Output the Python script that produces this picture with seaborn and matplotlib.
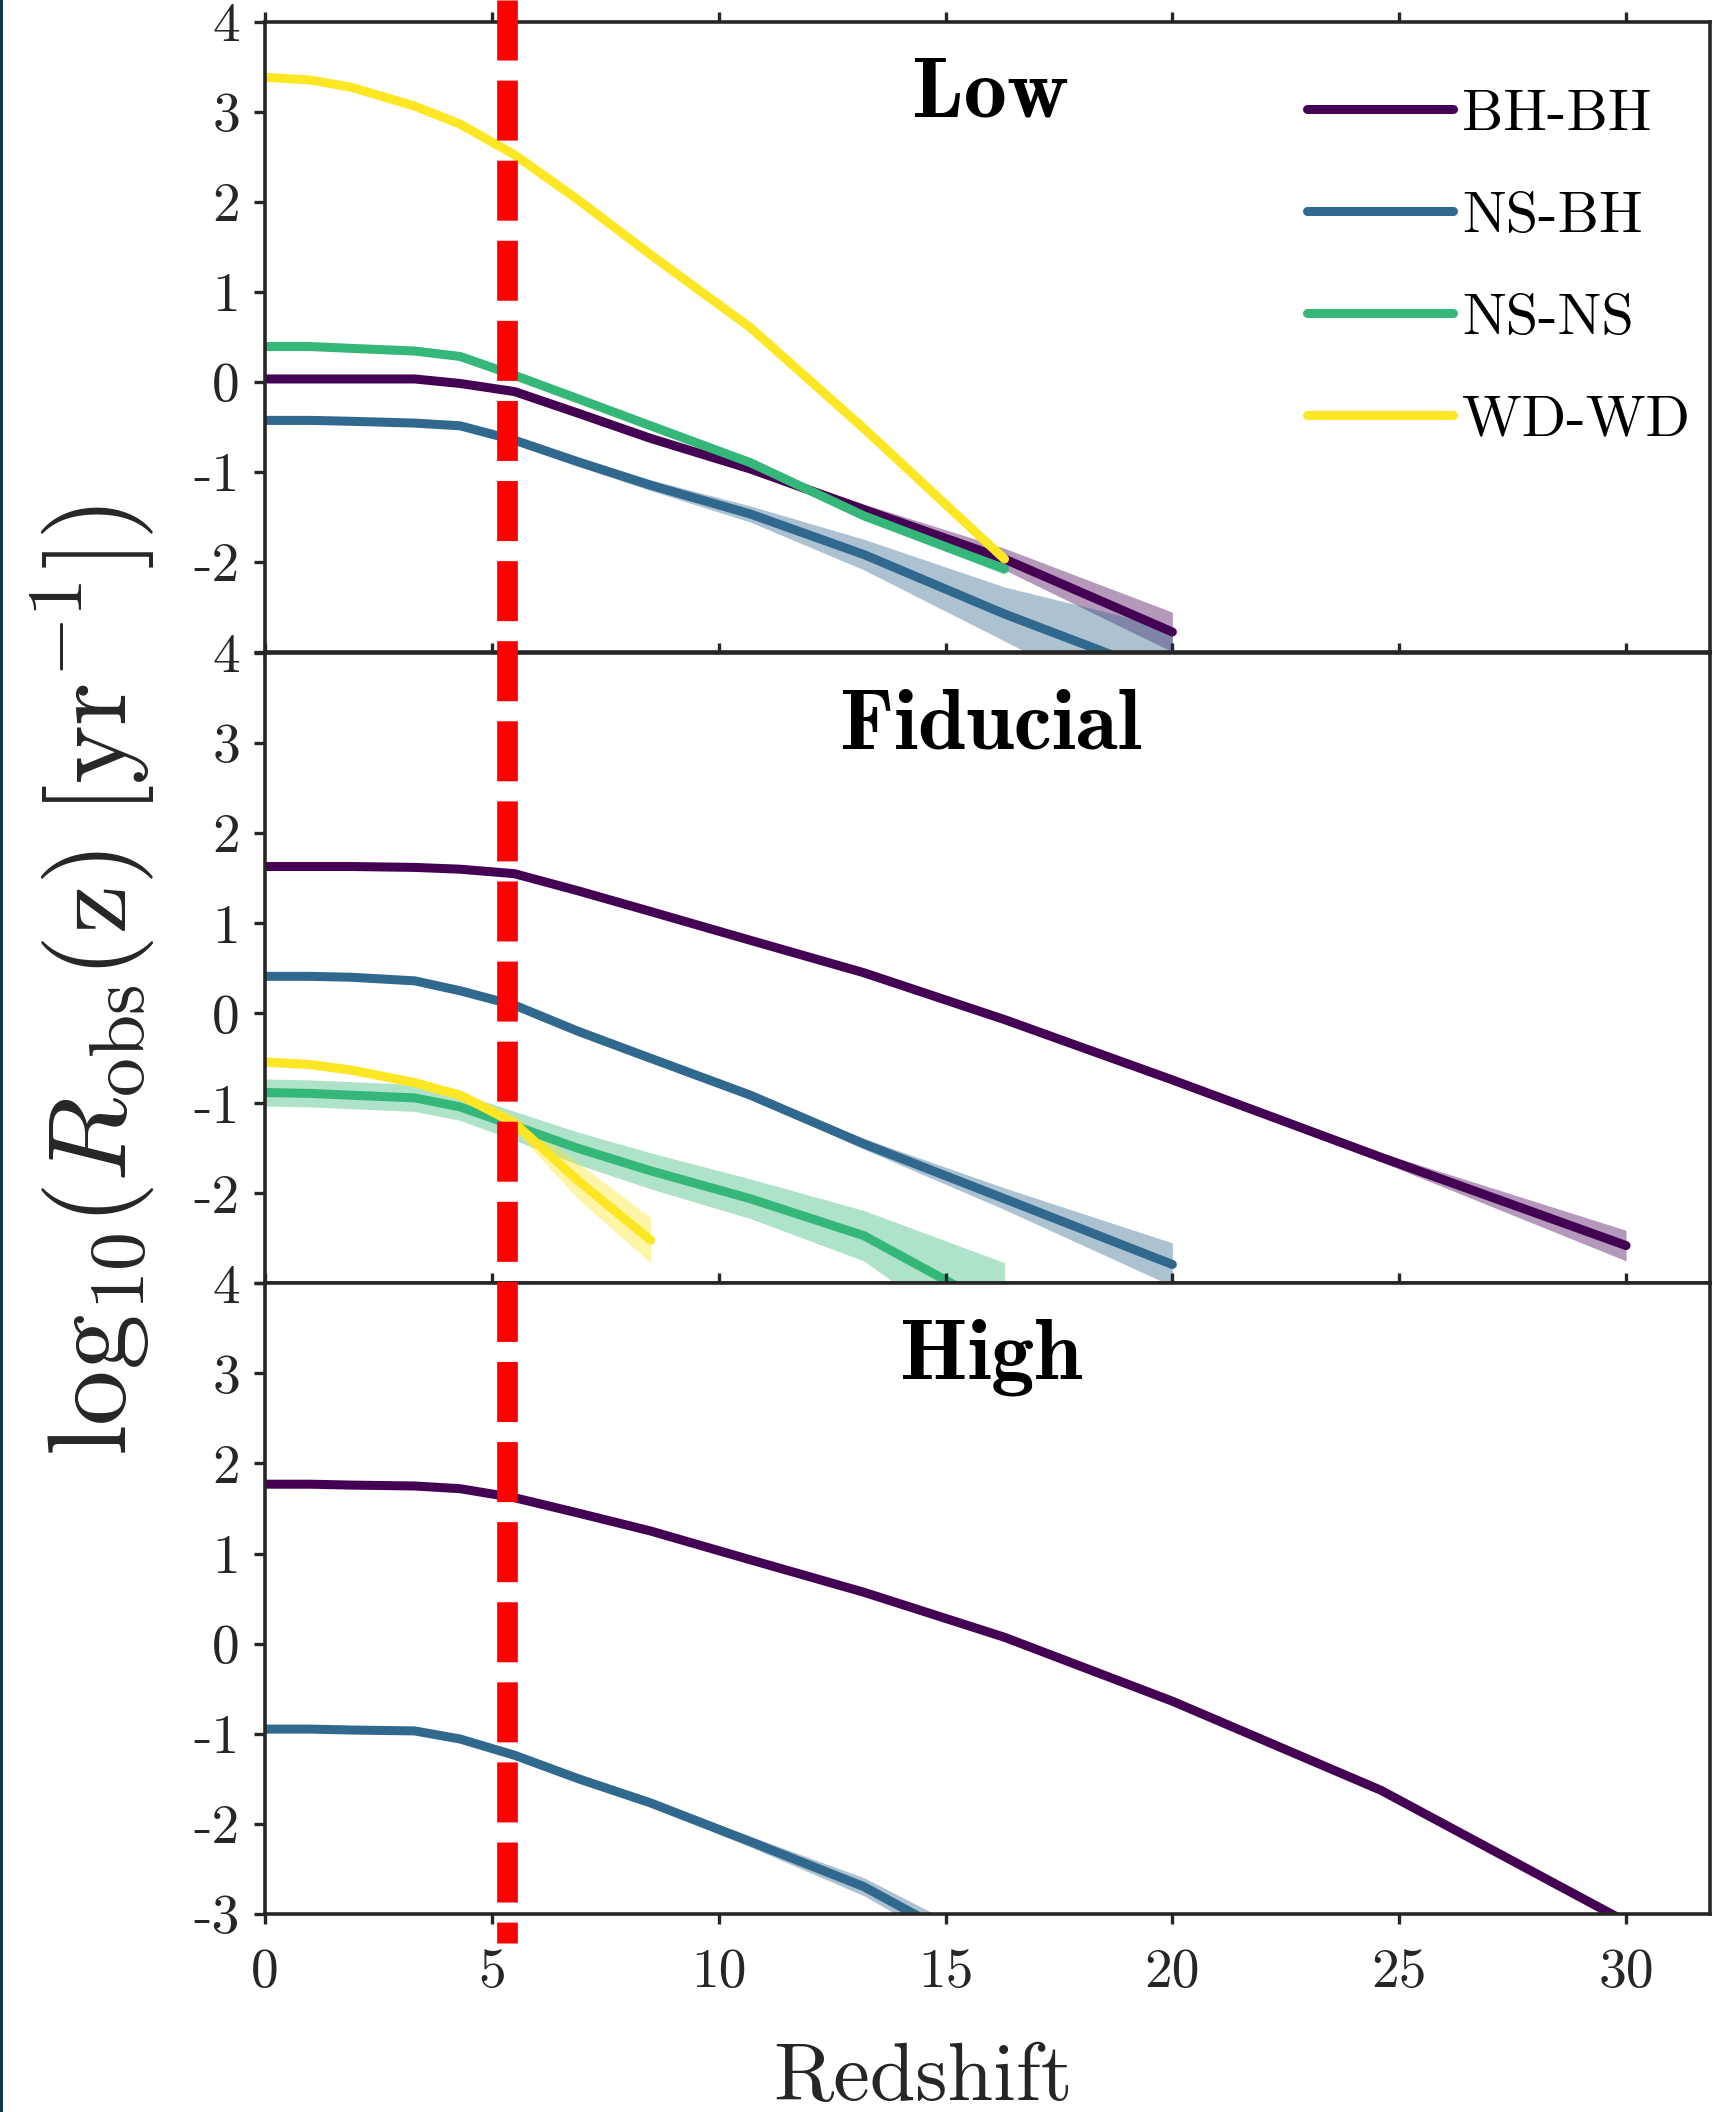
import numpy as np
import pandas as pd
import matplotlib
matplotlib.use("Agg")
import matplotlib.pyplot as plt
import matplotlib.transforms as mtransforms
from matplotlib.lines import Line2D
from matplotlib.patches import Rectangle
import seaborn as sns

# ---------------- data ----------------
z_grid = [0.0, 1.0, 1.9, 3.3, 4.3, 5.5, 6.9, 8.5, 10.7, 13.2, 16.3, 20.0, 24.6, 30.0]

systems = ["BH-BH", "NS-BH", "NS-NS", "WD-WD"]
colors = ["#440154", "#31688e", "#35b779", "#fde725"]
panels = ["Low", "Fiducial", "High"]

# Low
low_bhbh = [0.03, 0.03, 0.03, 0.03, -0.02, -0.11, -0.35, -0.63, -0.97, -1.42, -1.97, -2.78]
low_bhbh_err = [0.02, 0.02, 0.02, 0.02, 0.02, 0.02, 0.03, 0.03, 0.04, 0.06, 0.12, 0.22]
low_nsbh = [-0.43, -0.43, -0.44, -0.46, -0.49, -0.65, -0.89, -1.15, -1.47, -1.92, -2.58, -3.29]
low_nsbh_err = [0.03, 0.03, 0.03, 0.03, 0.03, 0.04, 0.05, 0.06, 0.09, 0.17, 0.30, 0.55]
low_nsns = [0.39, 0.39, 0.37, 0.34, 0.28, 0.07, -0.19, -0.49, -0.90, -1.49, -2.08]
low_nsns_err = [0.02, 0.02, 0.02, 0.02, 0.02, 0.02, 0.02, 0.03, 0.03, 0.04, 0.06]
low_wdwd = [3.38, 3.35, 3.27, 3.06, 2.86, 2.52, 2.02, 1.41, 0.60, -0.52, -1.97]
low_wdwd_err = [0.01, 0.01, 0.01, 0.01, 0.01, 0.01, 0.01, 0.01, 0.01, 0.01, 0.01]

# Fiducial
fid_bhbh = [1.63, 1.63, 1.63, 1.62, 1.60, 1.55, 1.36, 1.13, 0.81, 0.45, -0.07, -0.74, -1.60, -2.58]
fid_bhbh_err = [0.01, 0.01, 0.01, 0.01, 0.01, 0.01, 0.01, 0.02, 0.02, 0.02, 0.03, 0.03, 0.05, 0.17]
fid_nsbh = [0.41, 0.41, 0.40, 0.36, 0.25, 0.09, -0.20, -0.50, -0.91, -1.45, -2.06, -2.79]
fid_nsbh_err = [0.01, 0.01, 0.01, 0.01, 0.01, 0.02, 0.02, 0.02, 0.03, 0.06, 0.12, 0.24]
fid_nsns = [-0.88, -0.89, -0.91, -0.94, -1.04, -1.25, -1.50, -1.75, -2.06, -2.47, -3.32]
fid_nsns_err = [0.15, 0.15, 0.15, 0.15, 0.15, 0.16, 0.18, 0.20, 0.22, 0.28, 0.55]
fid_wdwd = [-0.54, -0.57, -0.63, -0.77, -0.91, -1.22, -1.86, -2.52]
fid_wdwd_err = [0.05, 0.05, 0.05, 0.05, 0.06, 0.08, 0.20, 0.25]

# High
high_bhbh = [1.77, 1.77, 1.76, 1.75, 1.72, 1.62, 1.45, 1.25, 0.93, 0.57, 0.07, -0.64, -1.63, -3.09]
high_bhbh_err = [0.01, 0.01, 0.01, 0.01, 0.01, 0.01, 0.01, 0.01, 0.02, 0.02, 0.03, 0.03, 0.03, 0.05]
high_nsbh = [-0.95, -0.95, -0.96, -0.97, -1.06, -1.24, -1.50, -1.77, -2.20, -2.70, -3.55]
high_nsbh_err = [0.02, 0.02, 0.02, 0.02, 0.02, 0.03, 0.03, 0.04, 0.06, 0.10, 0.15]

z_line = 5.34          # red dashed redshift marker
xticks = [0, 5, 10, 15, 20, 25, 30]
yticks = [-3, -2, -1, 0, 1, 2, 3, 4]

# ---------------- long table ----------------
series = {
    "Low": {"BH-BH": (low_bhbh, low_bhbh_err), "NS-BH": (low_nsbh, low_nsbh_err),
            "NS-NS": (low_nsns, low_nsns_err), "WD-WD": (low_wdwd, low_wdwd_err)},
    "Fiducial": {"BH-BH": (fid_bhbh, fid_bhbh_err), "NS-BH": (fid_nsbh, fid_nsbh_err),
                 "NS-NS": (fid_nsns, fid_nsns_err), "WD-WD": (fid_wdwd, fid_wdwd_err)},
    "High": {"BH-BH": (high_bhbh, high_bhbh_err), "NS-BH": (high_nsbh, high_nsbh_err)},
}
rows = []
for p, d in series.items():
    for s, (vals, errs) in d.items():
        for z, v, e in zip(z_grid, vals, errs):
            rows.append(dict(panel=p, system=s, z=z, rate=v, lo=v - e, hi=v + e))
df = pd.DataFrame(rows)

# ---------------- style ----------------
sns.set_style("ticks")
plt.rcParams.update({
    "font.family": ["cmr10", "DejaVu Serif"],
    "mathtext.fontset": "cm",
    "axes.unicode_minus": False,
    "axes.formatter.use_mathtext": True,
    "axes.edgecolor": "#262626",
    "xtick.color": "#262626",
    "ytick.color": "#262626",
})
palette = dict(zip(systems, colors))
ink = "#262626"

W, H = 1717, 2112
fig = plt.figure(figsize=(W / 100, H / 100), dpi=100)
fig.patch.set_facecolor("white")

left = 265 / W
width = (1710 - 265) / W
tops = [21.5, 653.1, 1283.4]
ph = 630.3 / H

axes = []
for i, p in enumerate(panels):
    bottom = 1 - (tops[i] + 630.3) / H
    ax = fig.add_axes([left, bottom, width, ph])
    ax.set_facecolor("white")
    sub = df[df.panel == p]
    for s in systems:
        ss = sub[sub.system == s]
        if len(ss) == 0:
            continue
        ax.fill_between(ss.z, ss.lo, ss.hi, color=palette[s], alpha=0.4,
                        linewidth=0, zorder=1)
    sns.lineplot(data=sub, x="z", y="rate", hue="system", hue_order=systems,
                 palette=palette, linewidth=6.5, legend=False, ax=ax,
                 sort=False, errorbar=None, zorder=2)
    ax.set_xlim(0, 31.85)
    ax.set_ylim(-3, 4)
    ax.set_xticks(xticks)
    ax.set_yticks(yticks)
    ylabels = [str(t) for t in yticks]
    if i < 2:
        ylabels[0] = ""
    ax.set_yticklabels(ylabels)
    ax.set_xticklabels([str(t) for t in xticks])
    ax.set_xlabel("")
    ax.set_ylabel("")
    for sp in ax.spines.values():
        sp.set_visible(True)
        sp.set_linewidth(2.6)
        sp.set_color(ink)
    ax.tick_params(axis="x", which="both", direction="out", top=True, bottom=True,
                   length=7, width=2.4, labelsize=40, pad=18,
                   labelbottom=(i == 2), labeltop=False, labelcolor=ink)
    ax.tick_params(axis="y", which="both", direction="out", left=True, right=False,
                   length=8, width=2.4, labelsize=40, pad=10, labelcolor=ink)
    ax.text(16, 2.94, p, ha="center", va="baseline", fontsize=62,
            family="cmb10", color="black", zorder=5)
    axes.append(ax)

# legend in the top panel
handles = [Line2D([0], [0], color=c, lw=6.5) for c in colors]
axes[0].legend(handles, systems, loc="upper left",
               bbox_to_anchor=(1307 / W, 1 - 89 / H), bbox_transform=fig.transFigure,
               frameon=False, fontsize=42, handlelength=2.51, handletextpad=0.15,
               labelspacing=0.86, borderpad=0, borderaxespad=0, labelcolor="black")

# red dashed marker spanning all panels
trans = mtransforms.blended_transform_factory(axes[2].transData, fig.transFigure)
red = Line2D([z_line, z_line], [1.0, 1 - 1943 / H], transform=trans, color="#ff0000",
             lw=14.9, linestyle=(0, (2.9, 0.97)), dash_capstyle="butt", zorder=10)
fig.add_artist(red)

# axis labels
fig.text(92 / W, 1 - 980 / H,
         r"$\mathrm{log}_{10}(R_{\rm obs}(\rm z)\;[\rm yr^{-1}])$",
         rotation=90, ha="center", va="center", fontsize=80, color=ink)
fig.text(922.6 / W, 1 - 2100 / H, "Redshift", ha="center", va="baseline",
         fontsize=59, color=ink)

# thin dark strip along the left edge of the original image
fig.add_artist(Rectangle((0, 0), 3 / W, 1, transform=fig.transFigure,
                         facecolor="#0f3550", edgecolor="none", zorder=20))

fig.savefig("out.png", dpi=100, facecolor="white")
